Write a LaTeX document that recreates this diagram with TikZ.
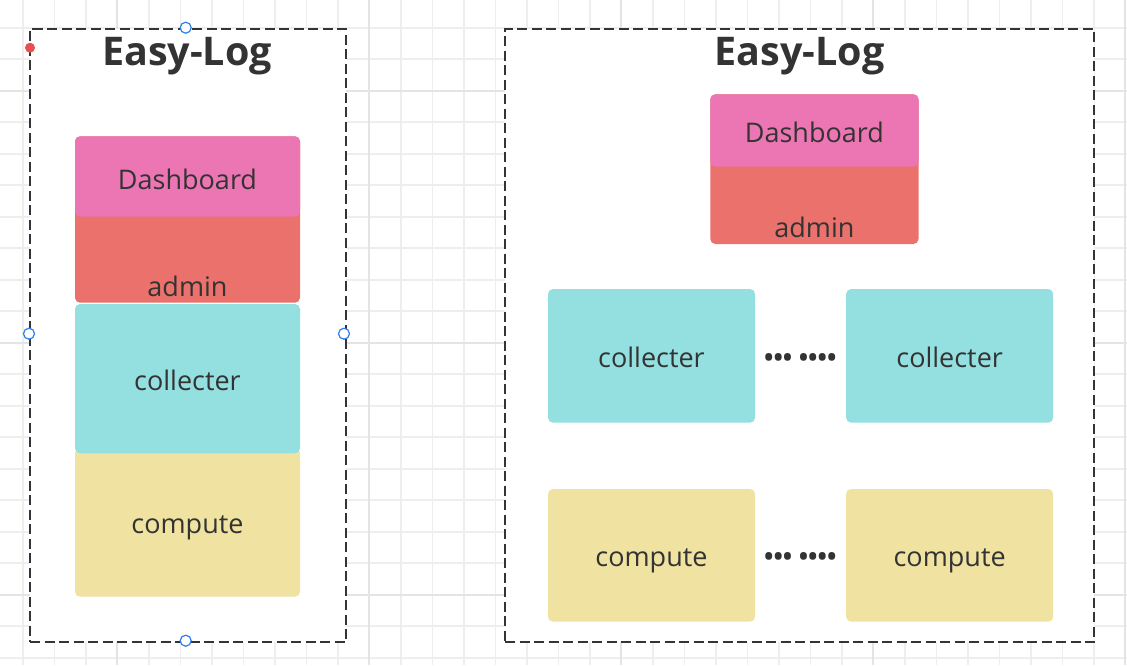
\documentclass[tikz,border=0pt]{standalone}
\usepackage{fontspec}
\setmainfont{Open Sans}
\definecolor{gridminor}{HTML}{EEEEEE}
\definecolor{gridmajor}{HTML}{E4E4E4}
\definecolor{dashcol}{HTML}{30343B}
\definecolor{txt}{HTML}{333333}
\definecolor{pinkc}{HTML}{EC75B3}
\definecolor{redc}{HTML}{EB716D}
\definecolor{cyanc}{HTML}{94E0E0}
\definecolor{yellowc}{HTML}{F0E2A0}
\definecolor{handleblue}{HTML}{2D7FF0}
\definecolor{reddot}{HTML}{E85050}
\tikzset{
  minorline/.style={gridminor, line width=1.6pt},
  majorline/.style={gridmajor, line width=2.3pt},
  container/.style={rectangle, fill=white, draw=dashcol, line width=2.2pt,
    dash pattern=on 10pt off 4.5pt, inner sep=0pt},
  box/.style={rectangle, rounded corners=5pt, inner sep=0pt},
  label/.style={text=txt, font=\fontsize{27}{30}\selectfont, anchor=base, inner sep=0pt},
  titletext/.style={text=txt, font=\bfseries\fontsize{39.5}{42}\selectfont, anchor=base, inner sep=0pt},
  dots/.style={text=txt, font=\bfseries\fontsize{25}{28}\selectfont, anchor=base, inner sep=0pt},
  handle/.style={circle, draw=handleblue, fill=white, line width=1.2pt, minimum size=11pt, inner sep=0pt},
}
\begin{document}
\begin{tikzpicture}[x=1pt,y=-1pt]
\useasboundingbox (0,0) rectangle (1127,665);
\fill[white] (0,0) rectangle (1127,665);
% grid
\foreach \i in {-11,...,24} \draw[minorline] ({369.3+31.5*\i},0) -- ++(0,665);
\foreach \j in {-2,...,18} \draw[minorline] (0,{90.7+31.5*\j}) -- ++(1127,0);
\foreach \xx in {117.3,369.3,621.3,873.3,1125.3} \draw[majorline] (\xx,0) -- ++(0,665);
\foreach \yy in {90.7,342.7,594.7} \draw[majorline] (0,\yy) -- ++(1127,0);

% left container
\node[container, minimum width=316pt, minimum height=613pt] (lc) at (188,335.5) {};
\node[titletext] (ltitle) at (187,65) {Easy-Log};
\node[box, fill=redc, minimum width=225pt, minimum height=166.4pt] (ladmin) at (187.5,219.5) {};
\node[box, fill=pinkc, minimum width=225pt, minimum height=80.4pt] (ldash) at (187.5,176.5) {};
\node[box, fill=yellowc, minimum width=225pt, minimum height=148.7pt] (lcomp) at (187.5,522.35) {};
\node[box, fill=cyanc, minimum width=225pt, minimum height=149.3pt] (lcoll) at (187.5,378.65) {};
\node[label] (ldasht) at (187.5,189) {Dashboard};
\node[label] (ladmint) at (187.5,296.5) {admin};
\node[label] (lcollt) at (187.5,390) {collecter};
\node[label] (lcompt) at (187.5,533) {compute};

% selection handles
\node[handle] (h1) at (185.7,27.7) {};
\node[handle] (h2) at (29,333.7) {};
\node[handle] (h3) at (344,333.7) {};
\node[handle] (h4) at (185.7,640.7) {};
\node[circle, fill=reddot, minimum size=10pt, inner sep=0pt] (rdot) at (30,47.7) {};

% right container
\node[container, minimum width=589pt, minimum height=613pt] (rc) at (799.5,335.5) {};
\node[titletext] (rtitle) at (799.5,65.5) {Easy-Log};
\node[box, fill=redc, minimum width=208.2pt, minimum height=149.7pt] (radmin) at (814.4,169.15) {};
\node[box, fill=pinkc, minimum width=208.2pt, minimum height=72.4pt] (rdash) at (814.4,130.5) {};
\node[label] (rdasht) at (814.4,142.7) {Dashboard};
\node[label] (radmint) at (814.4,237) {admin};

\node[box, fill=cyanc, minimum width=207pt, minimum height=133.7pt] (rcoll1) at (651.5,355.85) {};
\node[box, fill=cyanc, minimum width=207pt, minimum height=133.7pt] (rcoll2) at (949.65,355.85) {};
\node[box, fill=yellowc, minimum width=207pt, minimum height=132.7pt] (rcomp1) at (651.5,555.35) {};
\node[box, fill=yellowc, minimum width=207pt, minimum height=132.7pt] (rcomp2) at (949.65,555.35) {};
\node[label] (rcoll1t) at (651.5,367.2) {collecter};
\node[label] (rcoll2t) at (949.65,367.2) {collecter};
\node[label] (rcomp1t) at (651.5,566) {compute};
\node[label] (rcomp2t) at (949.65,566) {compute};
\node[dots] (dots1) at (800.3,366.5) {••• ••••};
\node[dots] (dots2) at (800.3,565.5) {••• ••••};
\end{tikzpicture}
\end{document}
